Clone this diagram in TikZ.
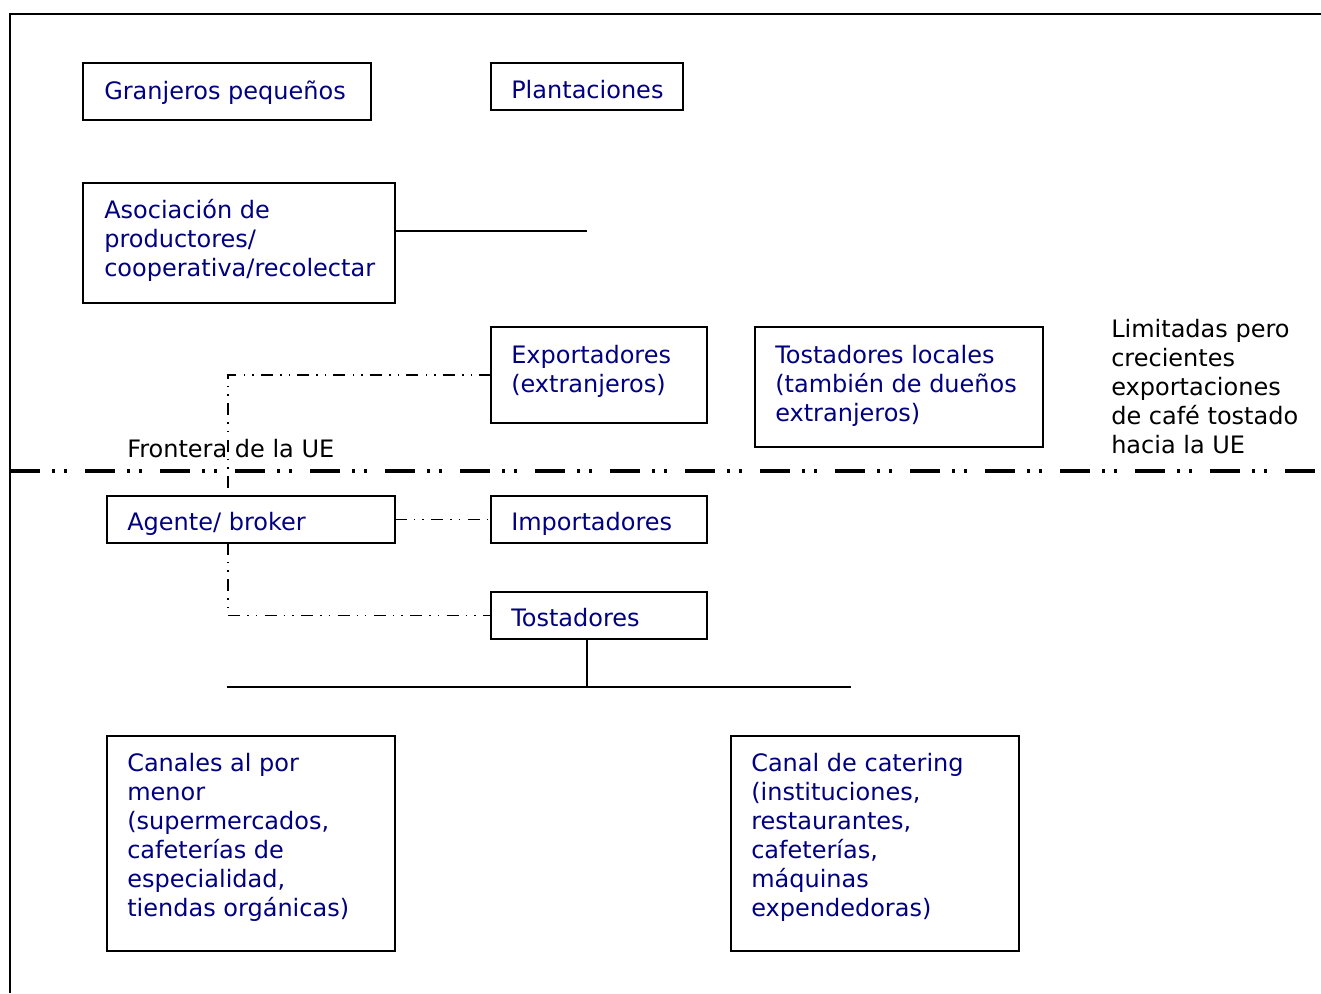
\documentclass[tikz,border=0pt]{standalone}
\usepackage{fontspec}
\setmainfont{DejaVu Sans}
\definecolor{navytext}{RGB}{0,0,128}
\begin{document}
\begin{tikzpicture}[x=0.75pt,y=-0.75pt,
  box/.style={draw=black,line width=1.5pt,anchor=north west,inner sep=0pt,outer sep=0pt},
  lbl/.style={anchor=base west,inner sep=0pt,align=left,text=navytext,
    font=\fontsize{18pt}{21.75pt}\selectfont},
  note/.style={anchor=base west,inner sep=0pt,align=left,text=black,
    font=\fontsize{18pt}{21.75pt}\selectfont},
  conn/.style={draw=black,line width=1.5pt},
  dashdot/.style={draw=black,line width=1.1pt,
    dash pattern=on 9pt off 5.25pt on 1.1pt off 5.25pt on 1.1pt off 5.6pt},
  border/.style={draw=black,line width=2.5pt,
    dash pattern=on 22.5pt off 9pt on 2.25pt off 6.75pt on 2.25pt off 13.5pt}]
\useasboundingbox (0,0) rectangle (1321,993);
% frame
\coordinate (ftl) at (10,14);
\coordinate (ftr) at (1321,14);
\coordinate (fbl) at (10,993);
\draw[conn] (ftr) -- (ftl) -- (fbl);
% boxes
\node[box,minimum width={288*0.75pt},minimum height={57*0.75pt}] (granj) at (83,63) {};
\node[box,minimum width={192*0.75pt},minimum height={47*0.75pt}] (plant) at (491,63) {};
\node[box,minimum width={312*0.75pt},minimum height={120*0.75pt}] (asoc) at (83,183) {};
\node[box,minimum width={216*0.75pt},minimum height={96*0.75pt}] (expo) at (491,327) {};
\node[box,minimum width={288*0.75pt},minimum height={120*0.75pt}] (tloc) at (755,327) {};
\node[box,minimum width={288*0.75pt},minimum height={47*0.75pt}] (agente) at (107,496) {};
\node[box,minimum width={216*0.75pt},minimum height={47*0.75pt}] (impo) at (491,496) {};
\node[box,minimum width={216*0.75pt},minimum height={47*0.75pt}] (tost) at (491,592) {};
\node[box,minimum width={288*0.75pt},minimum height={215*0.75pt}] (canal) at (107,736) {};
\node[box,minimum width={288*0.75pt},minimum height={215*0.75pt}] (cater) at (731,736) {};
% labels (anchor = baseline of the last line)
\node[lbl] (tgranj) at (104,99) {Granjeros pequeños};
\node[lbl] (tplant) at (511,98) {Plantaciones};
\node[lbl] (tasoc) at (104,276) {Asociación de\\productores/\\cooperativa/recolectar};
\node[lbl] (texpo) at (511,392) {Exportadores\\(extranjeros)};
\node[lbl] (ttloc) at (775,421) {Tostadores locales\\(también de dueños\\extranjeros)};
\node[note] (tlim) at (1111,453) {Limitadas pero\\crecientes\\exportaciones\\de café tostado\\hacia la UE};
\node[note] (tfront) at (127,457) {Frontera de la UE};
\node[lbl] (tagente) at (127,530) {Agente/ broker};
\node[lbl] (timpo) at (511,530) {Importadores};
\node[lbl] (ttost) at (511,626) {Tostadores};
\node[lbl] (tcanal) at (127,916) {Canales al por\\menor\\(supermercados,\\cafeterías de\\especialidad,\\tiendas orgánicas)};
\node[lbl] (tcater) at (751,916) {Canal de catering\\(instituciones,\\restaurantes,\\cafeterías,\\máquinas\\expendedoras)};
% EU border
\coordinate (bl) at (10,471);
\coordinate (br) at (1321,471);
\draw[border] (bl) -- (br);
% connectors
\coordinate (asocend) at (587,231);
\draw[conn] (asoc.east |- asocend) -- (asocend);
\coordinate (vx) at (228,375);
\draw[dashdot] (expo.west) -- (vx) -- (vx |- agente.north);
\draw[dashdot] (agente.east) -- (impo.west);
\coordinate (vx2) at (228,615.5);
\draw[dashdot] (vx2 |- agente.south) -- (vx2) -- (tost.west);
\coordinate (tx) at (587,687);
\coordinate (hl) at (227,687);
\coordinate (hr) at (851,687);
\draw[conn] (tx |- tost.south) -- (tx);
\draw[conn] (hl) -- (hr);
\end{tikzpicture}
\end{document}
